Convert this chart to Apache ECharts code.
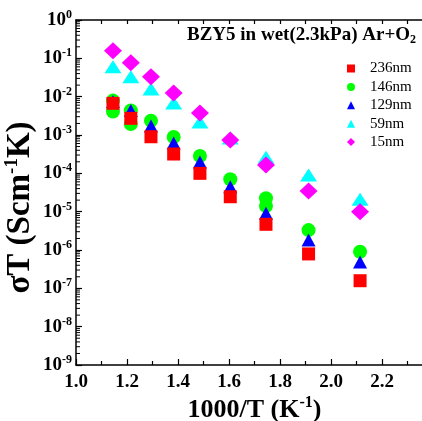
<!DOCTYPE html>
<html><head><meta charset="utf-8">
<script src="https://cdn.jsdelivr.net/npm/echarts@6/dist/echarts.min.js"></script>
<style>html,body{margin:0;padding:0;background:#fff}#c{width:422px;height:421px}</style>
</head><body><div id="c"></div>
<script>
// 1000/T values (K^-1)
const invT = [1.145, 1.215, 1.294, 1.383, 1.486, 1.605, 1.745, 1.912, 2.114];
// sigma*T (S cm^-1 K)
const s236 = [6.7e-3, 2.72e-3, 9.0e-4, 3.19e-4, 1.0e-4, 2.45e-5, 4.68e-6, 7.9e-7, 1.58e-7];
// 146nm has repeated measurements at some temperatures
const x146 = [1.145, 1.145, 1.215, 1.215, 1.294, 1.383, 1.486, 1.605, 1.745, 1.745, 1.912, 2.114];
const s146 = [7.9e-3, 4.1e-3, 4.35e-3, 1.94e-3, 2.36e-3, 8.9e-4, 2.83e-4, 7.0e-5, 2.23e-5, 1.40e-5, 3.3e-6, 9.0e-7];
const s129 = [7.5e-3, 4.35e-3, 1.72e-3, 6.2e-4, 1.97e-4, 4.5e-5, 9.1e-6, 1.82e-6, 4.9e-7];
const s59 = [6.05e-2, 3.3e-2, 1.58e-2, 6.8e-3, 2.18e-3, 8.4e-4, 2.62e-4, 9.0e-5, 2.1e-5];
const s15 = [0.158, 7.7e-2, 3.3e-2, 1.25e-2, 3.75e-3, 7.4e-4, 1.65e-4, 3.46e-5, 1.0e-5];
const seriesNames = ['236nm', '146nm', '129nm', '59nm', '15nm'];
const xMin = 1.0, xMax = 2.4, xStep = 0.2;
const yMin = 1e-9, yMax = 1;
const titleText = 'BZY5 in wet(2.3kPa) Ar+O';
const titleSub = '2';

// log minor tick positions (axis decoration only)
const minorTickValues = [];
for (let k = -9; k < 0; k++) for (let m = 2; m <= 9; m++) minorTickValues.push(m * Math.pow(10, k));

const FF = 'Liberation Serif';
const pair = (xs, ys) => xs.map((x, i) => [x, ys[i]]);
const supRich = {
  b: {fontFamily: FF, fontWeight: 'bold', fontSize: 19, color: '#000', lineHeight: 22},
  s: {fontFamily: FF, fontWeight: 'bold', fontSize: 12, color: '#000', lineHeight: 12, verticalAlign: 'top'}
};
const nameRich = {
  b: {fontFamily: FF, fontWeight: 'bold', fontSize: 26, color: '#000', lineHeight: 30},
  s: {fontFamily: FF, fontWeight: 'bold', fontSize: 16, color: '#000', lineHeight: 16, verticalAlign: 'top'}
};
const yNameRich = {
  b: {fontFamily: FF, fontWeight: 'bold', fontSize: 33, color: '#000', lineHeight: 34},
  s: {fontFamily: FF, fontWeight: 'bold', fontSize: 19, color: '#000', lineHeight: 18, verticalAlign: 'top'}
};

const chart = echarts.init(document.getElementById('c'), null, {renderer: 'canvas'});
const mk = (name, data, symbol, size, color, z) => ({
  name, type: 'scatter', data, symbol, symbolSize: size, z,
  itemStyle: {color, opacity: 1}, emphasis: {disabled: true}
});
chart.setOption({
  animation: false,
  backgroundColor: '#fff',
  title: {
    text: '{b|' + titleText + '}{sub|' + titleSub + '}',
    left: 187, top: 24, padding: 0,
    textStyle: {
      rich: {
        b: {fontFamily: FF, fontWeight: 'bold', fontSize: 19, color: '#000', lineHeight: 22},
        sub: {fontFamily: FF, fontWeight: 'bold', fontSize: 12, color: '#000', lineHeight: 12, verticalAlign: 'bottom'}
      }
    }
  },
  legend: {
    orient: 'vertical', left: 347, top: 61, padding: 0,
    itemWidth: 8, itemHeight: 8, itemGap: 3.4,
    data: [
      {name: '236nm', icon: 'rect'},
      {name: '146nm', icon: 'circle'},
      {name: '129nm', icon: 'triangle'},
      {name: '59nm', icon: 'triangle'},
      {name: '15nm', icon: 'diamond'}
    ],
    textStyle: {fontFamily: FF, fontSize: 15, color: '#000', padding: [0, 0, 0, 10]}
  },
  grid: {left: 76, top: 20, width: 357, height: 345, containLabel: false, outerBoundsMode: 'none'},
  xAxis: [{
    type: 'value', min: xMin, max: xMax, interval: xStep, position: 'bottom',
    name: '{b|1000/T (K}{s|-1}{b|)}', nameLocation: 'middle', nameGap: 30, nameMoveOverlap: false,
    nameTextStyle: {rich: nameRich},
    axisLine: {lineStyle: {color: '#000', width: 1.5}},
    axisTick: {inside: true, length: 6, lineStyle: {color: '#000', width: 1.2}},
    minorTick: {show: true, splitNumber: 2, length: 4, lineStyle: {color: '#000', width: 1.2}},
    splitLine: {show: false},
    axisLabel: {margin: 8, color: '#000', fontFamily: FF, fontWeight: 'bold', fontSize: 19,
      showMaxLabel: false, formatter: v => v.toFixed(1)}
  }, {
    type: 'value', min: xMin, max: xMax, interval: xStep, position: 'top',
    axisLine: {lineStyle: {color: '#000', width: 1.5}},
    axisTick: {inside: true, length: 4, lineStyle: {color: '#000', width: 1.2}},
    minorTick: {show: true, splitNumber: 2, length: 4, lineStyle: {color: '#000', width: 1.2}},
    splitLine: {show: false}, axisLabel: {show: false}
  }],
  yAxis: [{
    type: 'log', logBase: 10, min: yMin, max: yMax, splitNumber: 9,
    name: '{b|σT (Scm}{s|-1}{b|K)}', nameLocation: 'middle', nameGap: 39, nameMoveOverlap: false,
    nameTextStyle: {rich: yNameRich, padding: [0, 30, 0, 0]},
    axisLine: {lineStyle: {color: '#000', width: 1.5}},
    axisTick: {inside: true, length: 6, lineStyle: {color: '#000', width: 1.2}},
    splitLine: {show: false},
    axisLabel: {margin: 4, formatter: v => '{b|10}{s|' + Math.round(Math.log10(v)) + '}', rich: supRich}
  }],
  series: [
    {
      type: 'custom', silent: true, z: 10, xAxisIndex: 0, yAxisIndex: 0,
      data: minorTickValues.map(v => [xMin, v]),
      renderItem: (params, api) => {
        const p = api.coord([api.value(0), api.value(1)]);
        return {type: 'line', shape: {x1: p[0], y1: p[1], x2: p[0] + 4, y2: p[1]},
          style: {stroke: '#000', lineWidth: 1}};
      }
    },
    mk(seriesNames[1], pair(x146, s146), 'circle', 14, '#00ff00', 2),
    mk(seriesNames[2], pair(invT, s129), 'triangle', [14, 13], '#0000ff', 3),
    mk(seriesNames[0], pair(invT, s236), 'rect', 13, '#ff0000', 4),
    mk(seriesNames[3], pair(invT, s59), 'triangle', [17, 13], '#00ffff', 2),
    mk(seriesNames[4], pair(invT, s15), 'diamond', [18, 17], '#ff00ff', 5)
  ]
});
</script></body></html>
